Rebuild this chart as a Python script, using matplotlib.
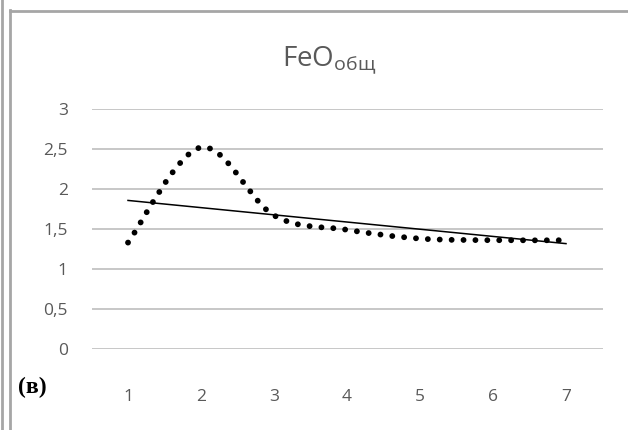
import numpy as np
import matplotlib
matplotlib.use("Agg")
import matplotlib.pyplot as plt
from matplotlib.path import Path
from matplotlib.patches import PathPatch
from matplotlib.lines import Line2D

# values
x_vals = [1, 2, 3, 4, 5, 6, 7]
feo_vals = [1.33, 2.52, 1.67, 1.49, 1.38, 1.36, 1.36]
y_ticks = [0, 0.5, 1, 1.5, 2, 2.5, 3]
y_tick_labels = ["0", "0,5", "1", "1,5", "2", "2,5", "3"]

plt.rcParams["font.family"] = ["Open Sans", "DejaVu Sans"]

fig = plt.figure(figsize=(6.28, 4.30), dpi=100)
ax = fig.add_axes([91.5 / 628, 81 / 430, 511 / 628, 240 / 430])
ax.set_xlim(0.5, 7.5)
ax.set_ylim(0, 3)

grey = "#595959"
ax.set_yticks(y_ticks)
ax.set_yticklabels(y_tick_labels)
ax.set_xticks(x_vals)
ax.tick_params(axis="both", length=0, labelsize=12.5, colors=grey)
ax.tick_params(axis="y", pad=17)
ax.tick_params(axis="x", pad=29)
for s in ax.spines.values():
    s.set_visible(False)
ax.grid(axis="y", color="#b8b8b8", linewidth=1.1)
ax.set_axisbelow(True)

# smoothed series (Excel style), bezier built in display space
fig.canvas.draw()
pts = ax.transData.transform(np.column_stack([x_vals, feo_vals]))
verts = [pts[0]]
codes = [Path.MOVETO]
n = len(pts)
for i in range(n - 1):
    p0 = pts[i - 1] if i > 0 else pts[i]
    p1 = pts[i]
    p2 = pts[i + 1]
    p3 = pts[i + 2] if i + 2 < n else pts[i + 1]
    c1 = p1 + (p2 - p0) / 6
    c2 = p2 - (p3 - p1) / 6
    verts += [c1, c2, p2]
    codes += [Path.CURVE4] * 3
verts = ax.transData.inverted().transform(np.array(verts))
curve = PathPatch(Path(verts, codes), fill=False, edgecolor="black",
                  linewidth=4.2, linestyle=(0, (0.01, 2.03)),
                  capstyle="round", transform=ax.transData)
ax.add_patch(curve)

# linear trend line
k, b = np.polyfit(x_vals, feo_vals, 1)
xt = np.array([x_vals[0], x_vals[-1]])
ax.plot(xt, k * xt + b, color="black", linewidth=1.1)

ax.text(0.465, 1 + 43 / 240, r"FeO$_{\mathregular{общ}}$", fontsize=20,
        color=grey, ha="center", va="baseline", transform=ax.transAxes)

fig.text(18 / 628, 1 - 387 / 430, "(в)", fontsize=17, fontweight="bold",
         family="Liberation Serif", va="center", ha="left")

# frame lines of the source figure
bc = "#a6a6a6"
fig.add_artist(Line2D([2 / 628, 2 / 628], [0, 1], color=bc, linewidth=2))
fig.add_artist(Line2D([10 / 628, 10 / 628], [0, 1 - 10 / 430], color=bc, linewidth=2))
fig.add_artist(Line2D([10 / 628, 1], [1 - 11 / 430, 1 - 11 / 430], color=bc, linewidth=2))

fig.savefig("out.png", dpi=100)
